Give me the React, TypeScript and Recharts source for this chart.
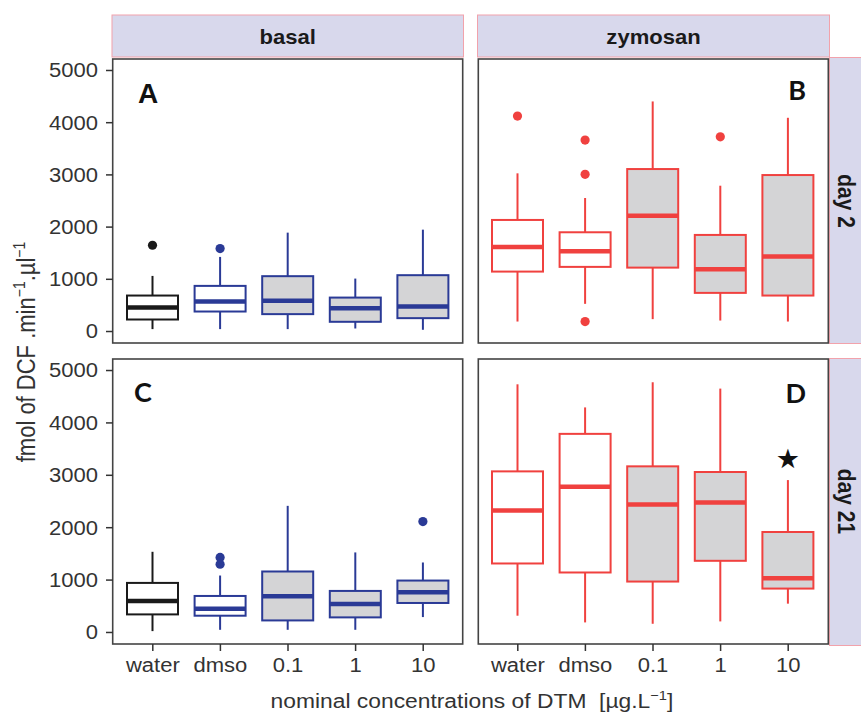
import React from "react";
import { ComposedChart, Bar, XAxis, YAxis } from "recharts";

const categories = ["water", "dmso", "0.1", "1", "10"];
const yTicks = [0, 1000, 2000, 3000, 4000, 5000];

// A : basal, day 2
const aLow = [46, 46, 46, 58, 33];
const aQ1 = [230, 383, 333, 186, 256];
const aMed = [459, 574, 587, 448, 478];
const aQ3 = [689, 874, 1060, 650, 1079];
const aHigh = [1065, 1429, 1894, 1014, 1951];
const aOut = [[1652], [1588], [], [], []];

// B : zymosan, day 2
const bLow = [191, 530, 237, 210, 191];
const bQ1 = [1148, 1238, 1224, 740, 689];
const bMed = [1620, 1538, 2219, 1194, 1435];
const bQ3 = [2137, 1901, 3112, 1850, 2997];
const bHigh = [3030, 2557, 4407, 2793, 4094];
const bOut = [[4126], [3667, 3011, 191], [], [3730], []];

// C : basal, day 21
const cLow = [26, 51, 51, 51, 294];
const cQ1 = [345, 320, 230, 288, 563];
const cMed = [601, 454, 690, 543, 767];
const cQ3 = [946, 697, 1164, 793, 991];
const cHigh = [1540, 1087, 2417, 1528, 1336];
const cOut = [[], [1432, 1304], [], [], [2116]];

// D : zymosan, day 21
const dLow = [320, 192, 166, 211, 550];
const dQ1 = [1317, 1145, 972, 1368, 838];
const dMed = [2327, 2781, 2442, 2480, 1036];
const dQ3 = [3075, 3791, 3171, 3063, 1918];
const dHigh = [4737, 4296, 4776, 4655, 2909];
const dOut = [[], [], [], [], []];
const dStar = [null, null, null, null, 3312];

const BLACK = "#1a1a1a";
const BLUE = "#2a3a96";
const RED = "#f0413f";
const GREY = "#d4d4d6";
const basalStroke = [BLACK, BLUE, BLUE, BLUE, BLUE];
const zymoStroke = [RED, RED, RED, RED, RED];
const boxFill = ["#ffffff", "#ffffff", GREY, GREY, GREY];

const FONT = "'Liberation Sans', Arial, sans-serif";
const SX = 1.13; // the figure is stretched a bit horizontally

function buildRows(low, q1, med, q3, high, out, strokes, star?) {
  return categories.map((c, i) => {
    const extra = star && star[i] != null ? [star[i]] : [];
    const pts = [...out[i], ...extra];
    const lo = Math.min(low[i], ...pts);
    const hi = Math.max(high[i], ...pts);
    return {
      cat: c,
      range: [lo, hi],
      lo,
      hi,
      low: low[i],
      q1: q1[i],
      med: med[i],
      q3: q3[i],
      high: high[i],
      out: out[i],
      star: star ? star[i] : null,
      stroke: strokes[i],
      boxFill: boxFill[i],
    };
  });
}

function BoxShape(props: any) {
  const { x, y, width, height, payload } = props;
  if (!payload || !isFinite(y)) return null;
  const top = Math.min(y, y + height);
  const bottom = Math.max(y, y + height);
  const span = payload.hi - payload.lo || 1;
  const py = (v: number) => bottom - ((v - payload.lo) / span) * (bottom - top);
  const cx = x + width / 2;
  const c = payload.stroke;
  return (
    <g>
      <line x1={cx} x2={cx} y1={py(payload.high)} y2={py(payload.q3)} stroke={c} strokeWidth={2} />
      <line x1={cx} x2={cx} y1={py(payload.q1)} y2={py(payload.low)} stroke={c} strokeWidth={2} />
      <rect
        x={x}
        y={py(payload.q3)}
        width={width}
        height={py(payload.q1) - py(payload.q3)}
        fill={payload.boxFill}
        stroke={c}
        strokeWidth={2}
      />
      <line x1={x} x2={x + width} y1={py(payload.med)} y2={py(payload.med)} stroke={c} strokeWidth={4.5} />
      {payload.out.map((v: number, k: number) => (
        <circle key={k} cx={cx} cy={py(v)} r={4.6} fill={c} />
      ))}
      {payload.star != null && (
        <text x={cx} y={py(payload.star) + 9} textAnchor="middle" fontSize={27} fill="#111" fontFamily="'DejaVu Sans'">
          ★
        </text>
      )}
    </g>
  );
}

const YTick = (props: any) => {
  const { x, y, payload } = props;
  return (
    <g transform={`translate(${x},${y})`}>
      <text transform={`scale(${SX},1)`} textAnchor="end" dy="0.355em" fontSize={19.5} fill="#333" fontFamily={FONT}>
        {payload.value}
      </text>
    </g>
  );
};

const XTick = (props: any) => {
  const { x, y, payload } = props;
  return (
    <g transform={`translate(${x},${y})`}>
      <text transform={`scale(${SX},1)`} textAnchor="middle" dy="0.71em" fontSize={19.5} fill="#333" fontFamily={FONT}>
        {payload.value}
      </text>
    </g>
  );
};

function Panel({ rows, left, top, plotH, showY, showX }) {
  const yw = showY ? 113 : 0;
  const xh = showX ? 50 : 0;
  return (
    <div style={{ position: "absolute", left, top }}>
      <ComposedChart width={yw + 350} height={plotH + xh} data={rows} margin={{ top: 0, right: 0, bottom: 0, left: 0 }}>
        <XAxis
          dataKey="cat"
          hide={!showX}
          height={showX ? xh : undefined}
          padding={{ left: 6, right: 6 }}
          interval={0}
          axisLine={false}
          tickSize={7}
          tickMargin={7}
          tickLine={{ stroke: "#333", strokeWidth: 1.5 }}
          tick={<XTick />}
        />
        <YAxis
          type="number"
          domain={[-220, 5220]}
          ticks={yTicks}
          allowDataOverflow
          hide={!showY}
          width={yw || undefined}
          axisLine={false}
          tickSize={7}
          tickMargin={8}
          tickLine={{ stroke: "#333", strokeWidth: 1.5 }}
          tick={<YTick />}
        />
        <Bar dataKey="range" barSize={51} shape={<BoxShape />} isAnimationActive={false} />
      </ComposedChart>
    </div>
  );
}

const rowsA = buildRows(aLow, aQ1, aMed, aQ3, aHigh, aOut, basalStroke);
const rowsB = buildRows(bLow, bQ1, bMed, bQ3, bHigh, bOut, zymoStroke);
const rowsC = buildRows(cLow, cQ1, cMed, cQ3, cHigh, cOut, basalStroke);
const rowsD = buildRows(dLow, dQ1, dMed, dQ3, dHigh, dOut, zymoStroke, dStar);

const STRIP = "#d8d8ec";
const STRIP_EDGE = "#f2a2ab";

export default function App() {
  return (
    <div style={{ position: "absolute", left: 0, top: 0, width: 861, height: 713, background: "#fff", overflow: "hidden" }}>
      <svg width={861} height={713} style={{ position: "absolute", left: 0, top: 0 }}>
        {/* strips */}
        <rect x={112} y={15} width={351.5} height={42} fill={STRIP} stroke={STRIP_EDGE} strokeWidth={1} />
        <rect x={477.5} y={15} width={352} height={42} fill={STRIP} stroke={STRIP_EDGE} strokeWidth={1} />
        <rect x={829.5} y={57.5} width={40} height={286} fill={STRIP} stroke={STRIP_EDGE} strokeWidth={1} />
        <rect x={829.5} y={358.5} width={40} height={287} fill={STRIP} stroke={STRIP_EDGE} strokeWidth={1} />
        <g fontFamily={FONT} fontWeight="bold" fontSize={21} fill="#1a1a1a">
          <text transform="translate(287.7,44) scale(1.05,1)" textAnchor="middle">basal</text>
          <text transform="translate(653.5,44) scale(1.05,1)" textAnchor="middle">zymosan</text>
          <text transform="translate(838,201) rotate(90) scale(1,1.1)" textAnchor="middle">day 2</text>
          <text transform="translate(838,501.5) rotate(90) scale(1,1.1)" textAnchor="middle">day 21</text>
        </g>
        {/* panel frames */}
        <g fill="none" stroke="#444" strokeWidth={1.6}>
          <rect x={112.7} y={59} width={350} height={284} />
          <rect x={478.3} y={59} width={350} height={284} />
          <rect x={112.7} y={359} width={350} height={285} />
          <rect x={478.3} y={359} width={350} height={285} />
        </g>
        {/* panel letters */}
        <text x={138} y={103} fontFamily={FONT} fontWeight="bold" fontSize={28} fill="#111">A</text>
        <g fontFamily="Lato, 'Open Sans', sans-serif" fontWeight="bold" fontSize={27} fill="#111">
          <text x={806} y={100} textAnchor="end">B</text>
          <text x={134} y={402}>C</text>
          <text x={806} y={403} textAnchor="end">D</text>
        </g>
        {/* axis titles */}
        <text
          transform={`translate(35,352) rotate(-90) scale(1,${SX})`}
          textAnchor="middle"
          fontFamily={FONT}
          fontSize={22}
          fill="#333"
        >
          fmol of DCF .min<tspan dy={-9} fontSize={14}>−1</tspan>
          <tspan dy={9}>.µl</tspan>
          <tspan dy={-9} fontSize={14}>−1</tspan>
        </text>
        <text
          transform={`translate(472,708) scale(${SX},1)`}
          textAnchor="middle"
          fontFamily={FONT}
          fontSize={20.2}
          fill="#333"
          style={{ whiteSpace: "pre" }}
        >
          nominal concentrations of DTM  [µg.L<tspan dy={-8} fontSize={13}>−1</tspan>
          <tspan dy={8}>]</tspan>
        </text>
      </svg>
      <Panel rows={rowsA} left={0} top={59} plotH={284} showY showX={false} />
      <Panel rows={rowsB} left={478} top={59} plotH={284} showY={false} showX={false} />
      <Panel rows={rowsC} left={0} top={359} plotH={285} showY showX />
      <Panel rows={rowsD} left={478} top={359} plotH={285} showY={false} showX />
    </div>
  );
}
